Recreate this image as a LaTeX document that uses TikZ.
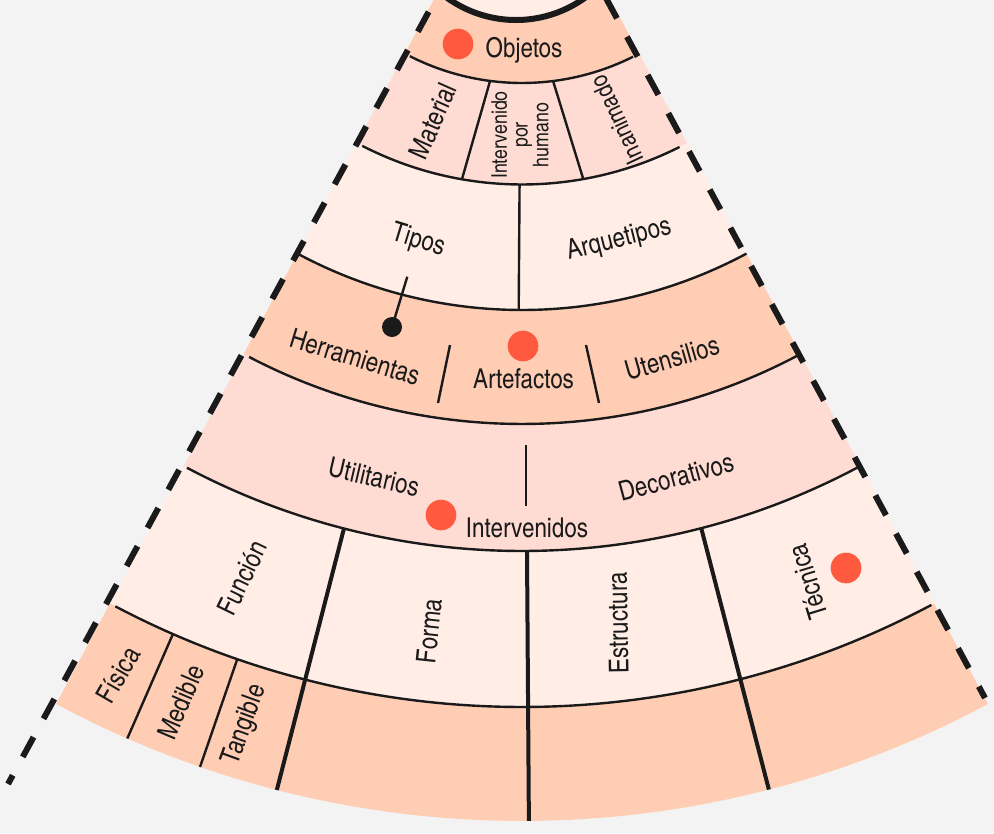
\documentclass[tikz,border=0pt]{standalone}
\usepackage{fontspec}
\setmainfont{texgyreheroscn}[Extension=.otf,UprightFont=*-regular]
\definecolor{bg}{HTML}{F3F3F3}
\definecolor{salmon}{HTML}{FFCDB4}
\definecolor{pink}{HTML}{FFDCD3}
\definecolor{light}{HTML}{FFEDE6}
\definecolor{dotred}{HTML}{FF5A40}
\definecolor{ink}{HTML}{1A1A1A}
\newcommand\fanband[3]{\fill[#3] ([shift={(C)}]118.2:#1) arc[start angle=118.2,end angle=61.8,radius=#1] -- ([shift={(C)}]61.8:#2) arc[start angle=61.8,end angle=118.2,radius=#2] -- cycle;}
\newcommand\fanarc[3]{\draw[thinline] ([shift={(C)}]#2:#1) arc[start angle=#2,end angle=#3,radius=#1];}
\newcommand\fanray[4]{\draw[#4] ([shift={(C)}]#1:#2) -- ([shift={(C)}]#1:#3);}
\begin{document}
\begin{tikzpicture}[x=0.75pt,y=-0.75pt,
 thinline/.style={draw=ink,line width=1.8pt},
 thickline/.style={draw=ink,line width=3pt},
 dashedge/.style={draw=ink,line width=4.5pt,dash pattern=on 16.9pt off 15.7pt},
 lbl/.style={font=\fontsize{20.5}{22}\selectfont,text=ink,inner sep=0pt},
 midlbl/.style={font=\fontsize{18.5}{20}\selectfont,text=ink,inner sep=0pt},
 smalllbl/.style={font=\fontsize{16.2}{15.5}\selectfont,text=ink,inner sep=0pt,align=center},
 reddot/.style={circle,fill=dotred,minimum size=23pt,inner sep=0pt},
 blackdot/.style={circle,fill=ink,minimum size=15pt,inner sep=0pt}]
\useasboundingbox (0,0) rectangle (994,833);
\clip (0,0) rectangle (994,833);
\fill[bg] (0,0) rectangle (994,833);
\coordinate (C) at (522,-165);
% bands
\fanband{110}{248}{salmon}
\fanband{248}{349.5}{pink}
\fanband{349.5}{475}{light}
\fanband{475}{589}{salmon}
\fanband{589}{716}{pink}
\fanband{716}{872}{light}
\fanband{872}{986}{salmon}
% arcs
\fanarc{248}{116.9}{63.4}
\fanarc{349.5}{117.2}{63.2}
\fanarc{475}{118.0}{61.8}
\fanarc{589}{117.6}{62.1}
\fanarc{716}{117.9}{61.9}
\fanarc{872}{117.8}{62.0}
% dividers
\draw[thinline] ([shift={(C)}]97.4:248) -- ([shift={(C)}]99.9:349.5);
\draw[thinline] ([shift={(C)}]82.8:248) -- ([shift={(C)}]79.9:349.5);
\fanray{90.4}{349.5}{475}{thinline}
\coordinate (a1) at (450,345); \coordinate (a2) at (438,403);
\coordinate (a3) at (586,345); \coordinate (a4) at (599,403);
\draw[thinline] (a1) -- (a2); \draw[thinline] (a3) -- (a4);
\coordinate (u1) at (526,445); \coordinate (u2) at (526,506);
\draw[thinline] (u1) -- (u2);
\fanray{113.6}{872}{986}{thinline}
\fanray{109.06}{872}{986}{thinline}
\fanray{104.4}{716}{986}{thickline}
\fanray{89.6}{716}{986}{thickline}
\fanray{75.5}{716}{986}{thickline}
% core circle
\node[draw=ink,line width=4.5pt,fill=light,circle,minimum size=177pt,inner sep=0pt] (core) at (516,-98) {};
% dashed edges
\coordinate (L1) at (449.4,-26.3); \coordinate (L2) at (8,784);
\coordinate (R1) at (585.5,-39.7); \coordinate (R2) at (985,698);
\draw[dashedge] (L1) -- (L2);
\draw[dashedge] (R1) -- (R2);
% labels
\node[lbl,anchor=base] (obj) at (524,57.5) {Objetos};
\node[lbl,rotate=66] (mat) at (433,121) {Material};
\node[smalllbl,rotate=90] (inth) at (520,135) {Intervenido\\por\\humano};
\node[midlbl,rotate=115] (inan) at (617,120) {Inanimado};
\node[lbl,rotate=-17] (tip) at (418,241) {Tipos};
\node[lbl,rotate=14] (arq) at (619,240) {Arquetipos};
\node[lbl,rotate=-17] (her) at (355,357) {Herramientas};
\node[lbl,anchor=base] (art) at (523.5,388) {Artefactos};
\node[lbl,rotate=16] (ute) at (672,358) {Utensilios};
\node[lbl,rotate=-13] (uti) at (374,477) {Utilitarios};
\node[lbl,rotate=15] (dec) at (676,477) {Decorativos};
\node[lbl,anchor=base] (intv) at (527,537) {Intervenidos};
\node[lbl,rotate=64] (fun) at (242,578) {Función};
\node[lbl,rotate=60] (fis) at (118,675) {Física};
\node[lbl,rotate=67] (med) at (181,702) {Medible};
\node[lbl,rotate=70] (tan) at (245,725) {Tangible};
\node[lbl,rotate=84] (for) at (429,631) {Forma};
\node[lbl,rotate=91] (est) at (618,623) {Estructura};
\node[lbl,rotate=107] (tec) at (808,582) {Técnica};
% dots
\node[reddot] (d1) at (458,44) {};
\node[reddot] (d2) at (523,346) {};
\node[reddot] (d3) at (441,515) {};
\node[reddot] (d4) at (846,568) {};
\node[blackdot] (bd) at (392,327) {};
\coordinate (bdtop) at (407.3,276.7);
\draw[thinline] (bd.center) -- (bdtop);
\end{tikzpicture}
\end{document}
